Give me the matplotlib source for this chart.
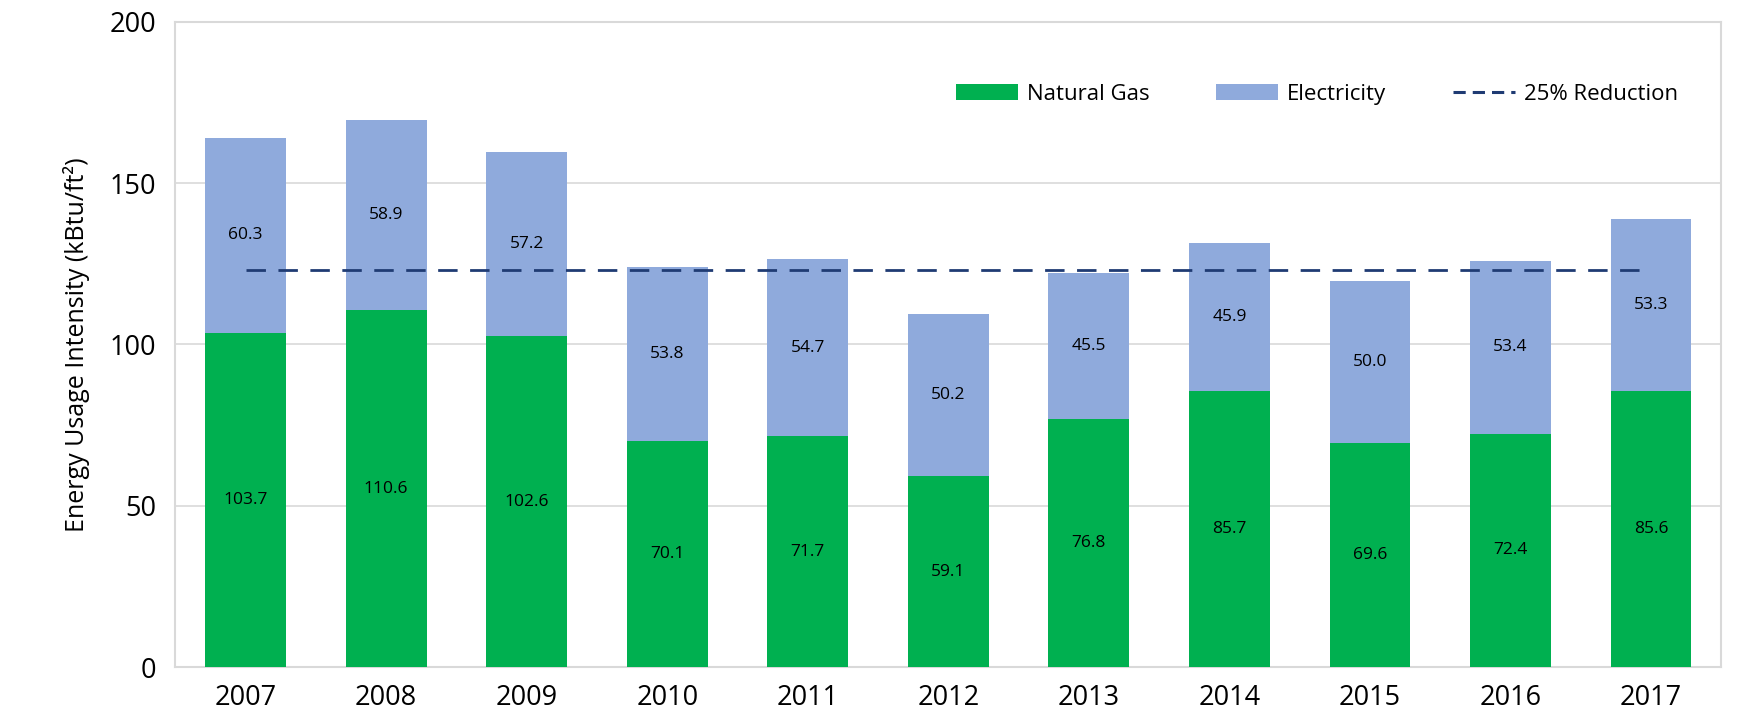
import numpy as np
import matplotlib
matplotlib.use("Agg")
import matplotlib.pyplot as plt
from matplotlib.lines import Line2D

plt.rcParams['font.family'] = ['Open Sans', 'DejaVu Sans']

# data
years = ["2007", "2008", "2009", "2010", "2011", "2012", "2013", "2014", "2015", "2016", "2017"]
natural_gas = [103.7, 110.6, 102.6, 70.1, 71.7, 59.1, 76.8, 85.7, 69.6, 72.4, 85.6]
electricity = [60.3, 58.9, 57.2, 53.8, 54.7, 50.2, 45.5, 45.9, 50.0, 53.4, 53.3]
reduction_target = 123.0

green = "#00B050"
blue = "#8FAADC"
navy = "#1F3B73"
grid_col = "#D9D9D9"

fig = plt.figure(figsize=(17.44, 7.26), dpi=100)
ax = fig.add_axes([0.1005, 0.081, 0.8865, 0.889])

x = np.arange(len(years))
w = 0.575
b1 = ax.bar(x, natural_gas, w, color=green, label="Natural Gas", zorder=3)
b2 = ax.bar(x, electricity, w, bottom=natural_gas, color=blue, label="Electricity", zorder=3)
ax.plot([x[0], x[-1]], [reduction_target, reduction_target], color=navy, lw=2,
        dashes=(7, 4.5), zorder=4)

# value labels in the middle of each segment
for xi, g, e in zip(x, natural_gas, electricity):
    ax.text(xi, g / 2, f"{g:.1f}", ha="center", va="center", fontsize=12.5, zorder=5)
    ax.text(xi, g + e / 2, f"{e:.1f}", ha="center", va="center", fontsize=12.5, zorder=5)

ax.set_xlim(-0.5, len(years) - 0.5)
ax.set_ylim(0, 200)
ax.set_yticks([0, 50, 100, 150, 200])
ax.set_xticks(x)
ax.set_xticklabels(years)
ax.tick_params(axis="both", length=0, labelsize=19.5)
ax.tick_params(axis="x", pad=12)
ax.tick_params(axis="y", pad=14)
ax.yaxis.grid(True, color=grid_col, lw=1.2, zorder=0)
for s in ax.spines.values():
    s.set_color(grid_col)
    s.set_linewidth(1.5)
ax.set_ylabel("Energy Usage Intensity (kBtu/ft²)", fontsize=18, labelpad=14)

line_handle = Line2D([], [], color=navy, lw=2.2, dashes=(4, 2.3))
ax.legend([b1, b2, line_handle], ["Natural Gas", "Electricity", "25% Reduction"],
          loc="upper right", bbox_to_anchor=(0.985, 0.935), ncol=3, frameon=False,
          fontsize=16, handlelength=2.8, handleheight=0.75, columnspacing=3.0,
          handletextpad=0.4)

fig.savefig("out.png", dpi=100)
